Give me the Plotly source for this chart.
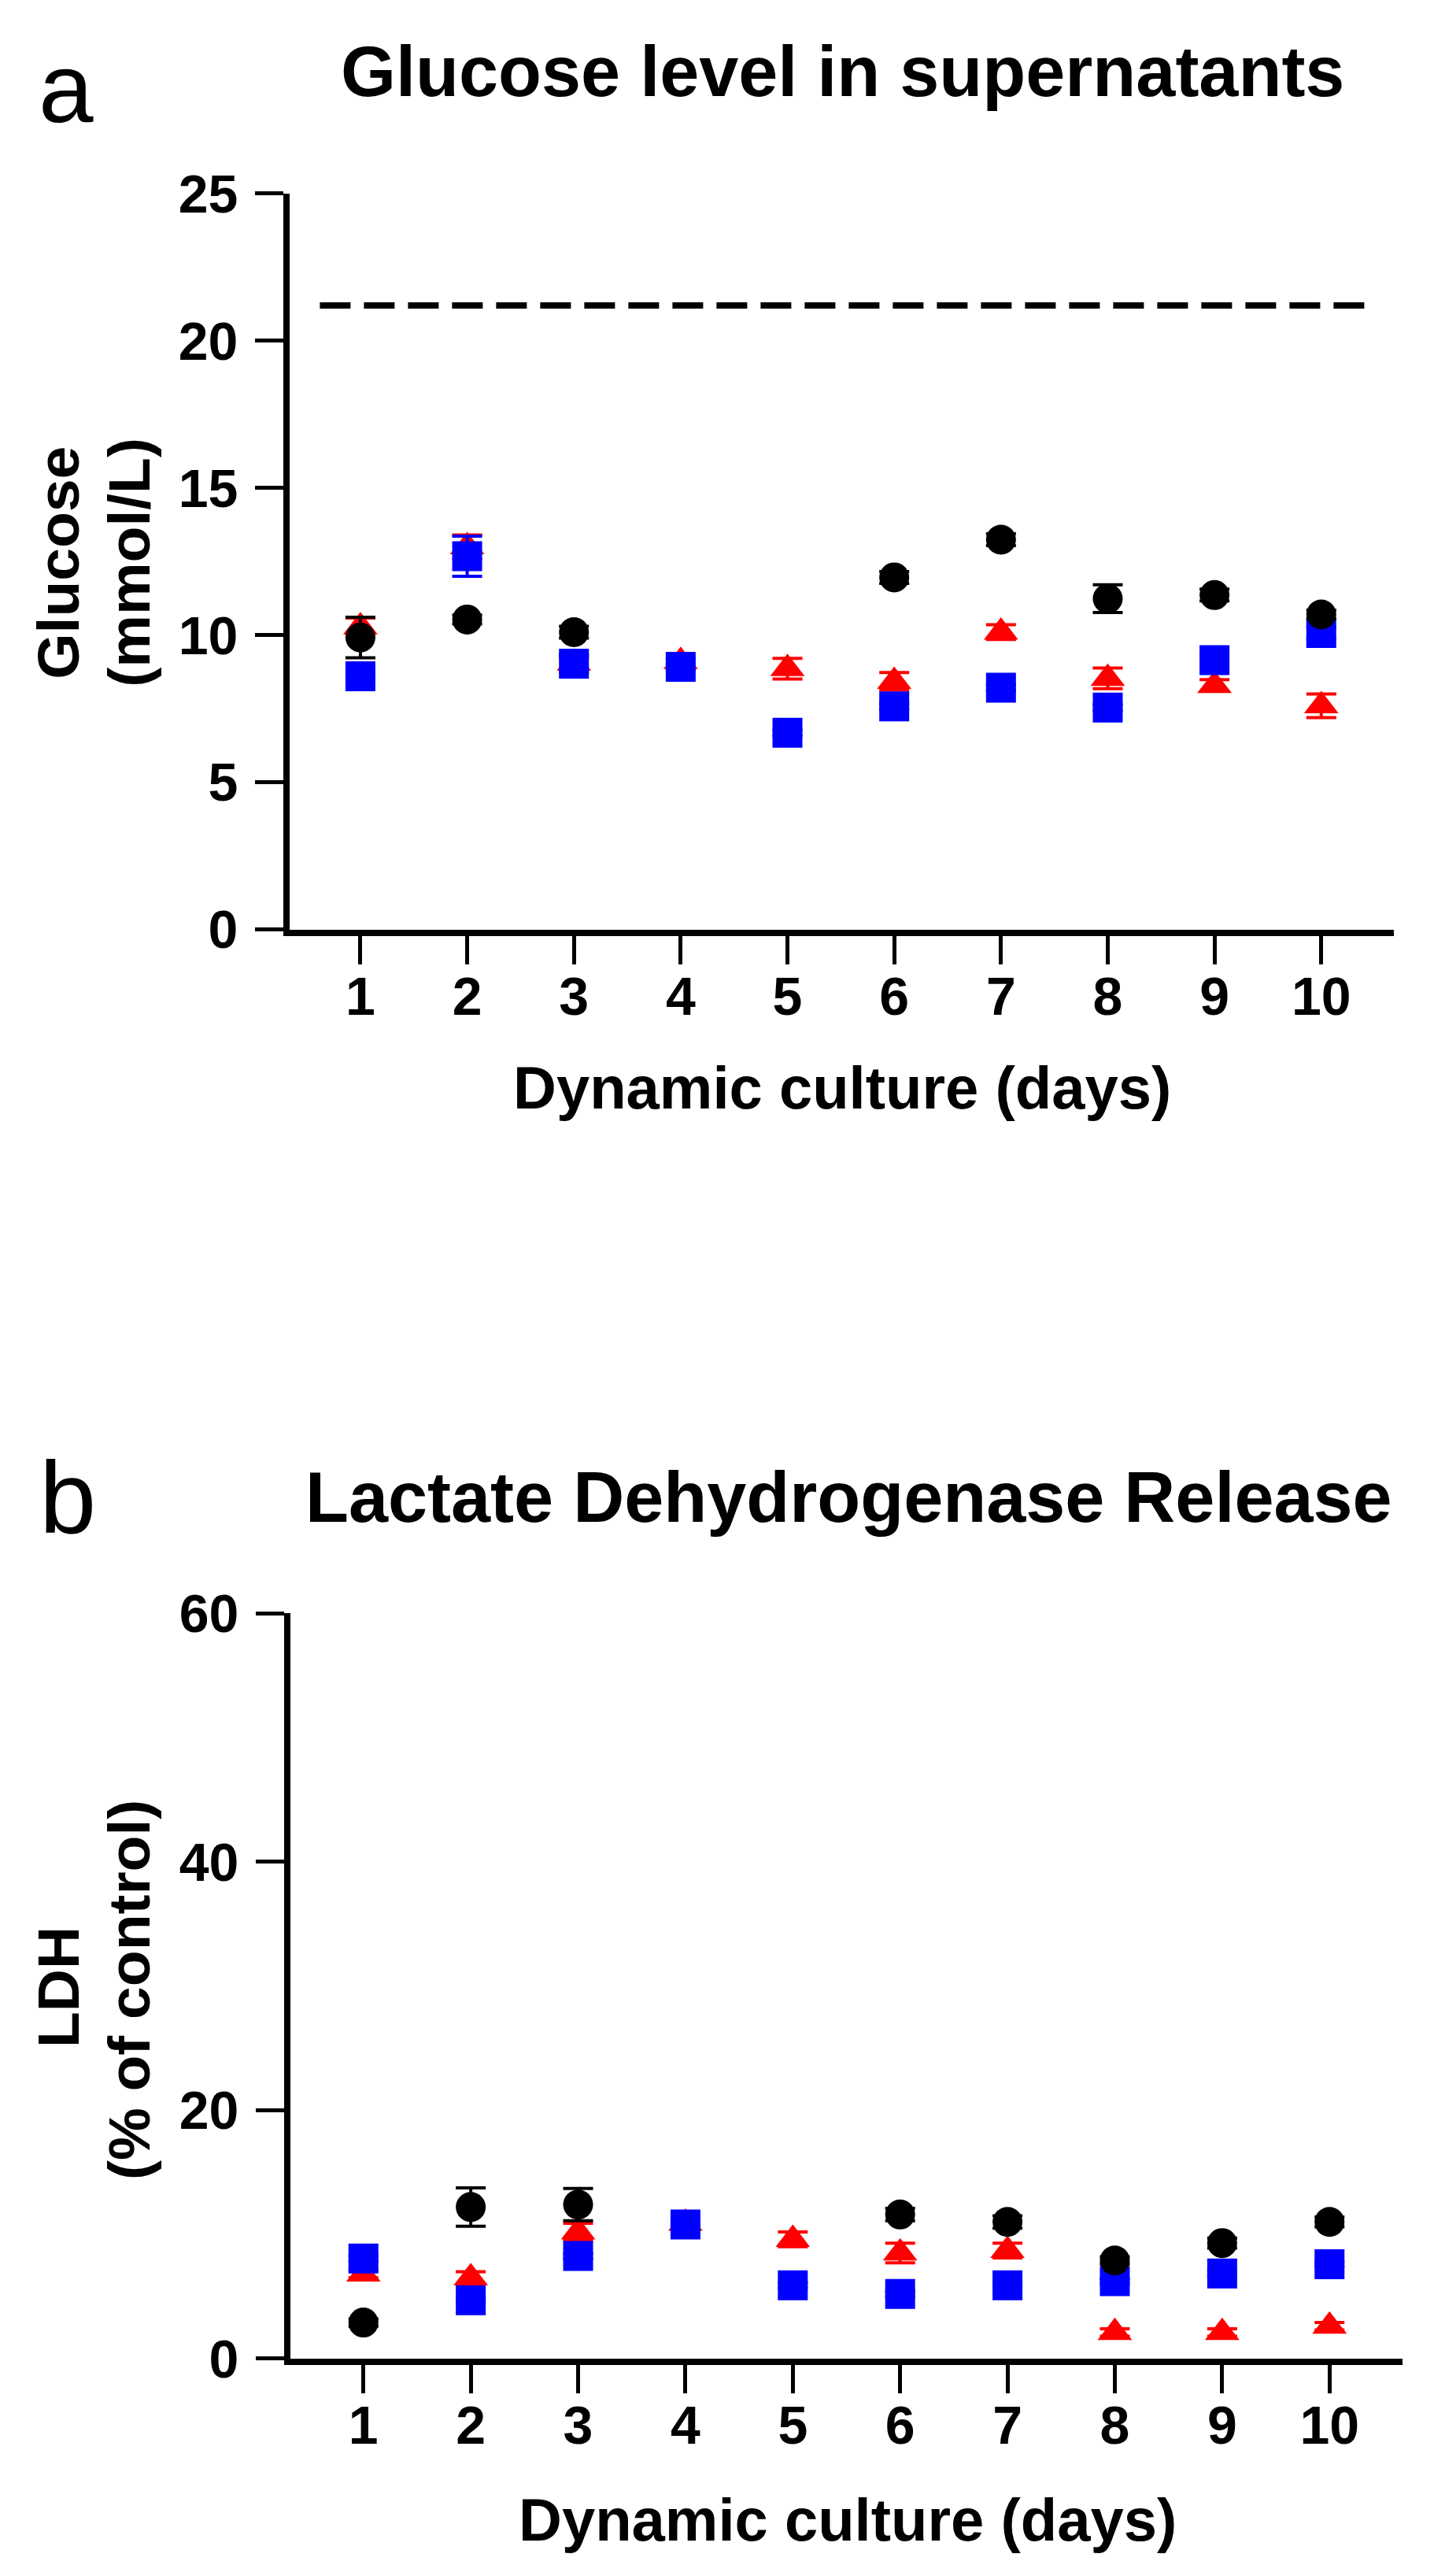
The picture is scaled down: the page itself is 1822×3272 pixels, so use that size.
import plotly.graph_objects as go

# ---------------- data ----------------
days = [1, 2, 3, 4, 5, 6, 7, 8, 9, 10]

# Panel a: glucose (mmol/L)
glu_black = [9.92, 10.53, 10.10, None, None, 11.96, 13.24, 11.24, 11.36, 10.70]
glu_black_err = [0.69, 0.15, 0.20, None, None, 0.20, 0.20, 0.47, 0.20, 0.15]
glu_red = [10.28, 13.00, 9.05, 9.10, 8.86, 8.43, 10.10, 8.53, 8.29, 7.60]
glu_red_err = [0.30, 0.40, 0.20, 0.10, 0.35, 0.30, 0.25, 0.35, 0.20, 0.40]
glu_blue = [8.60, 12.68, 9.03, 8.92, 6.68, 7.58, 8.21, 7.54, 9.15, 10.07]
glu_blue_err = [0.10, 0.68, 0.30, 0.10, 0.10, 0.10, 0.10, 0.10, 0.15, 0.20]
glu_reference = 21.2

# Panel b: LDH (% of control)
ldh_black = [2.9, 12.2, 12.4, None, None, 11.6, 11.0, 7.9, 9.3, 11.0]
ldh_black_err = [0.3, 1.55, 1.3, None, None, 0.5, 0.5, 0.3, 0.4, 0.4]
ldh_red = [6.8, 6.5, 10.2, 10.9, 9.6, 8.5, 8.7, 2.1, 2.1, 2.6]
ldh_red_err = [0.3, 0.5, 0.7, 0.3, 0.6, 0.8, 0.6, 0.3, 0.3, 0.3]
ldh_blue = [8.06, 4.7, 8.26, 10.8, 5.9, 5.2, 5.9, 6.24, 6.85, 7.6]
ldh_blue_err = [0.2, 0.2, 0.2, 0.2, 0.2, 0.2, 0.2, 0.2, 0.2, 0.2]

glu_yticks = [0, 5, 10, 15, 20, 25]
ldh_yticks = [0, 20, 40, 60]

# ---------------- styling ----------------
W, H = 1822, 3272
FONT = "Liberation Sans, Arial, Helvetica, sans-serif"
BLACK, RED, BLUE = "#000000", "#FF0000", "#0000FF"

# the photographed page maps layout y to about 40.5 + 0.975 * y
V_OFF, V_SC = 40.5, 0.975


def px_x(p):
    return p / W


def px_y(p):
    return 1 - ((p - V_OFF) / V_SC) / H


fig = go.Figure()


def add_series(y, err, color, symbol, size, xa, ya):
    fig.add_trace(go.Scatter(
        x=days, y=y, mode="markers", xaxis=xa, yaxis=ya,
        marker=dict(symbol=symbol, size=size, color=color, line=dict(width=0)),
        error_y=dict(type="data", array=err, visible=True, color=color,
                     thickness=4, width=19),
        showlegend=False, cliponaxis=False,
    ))


# draw order: red triangles, blue squares, black circles on top
add_series(glu_red, glu_red_err, RED, "triangle-up", 38, "x", "y")
add_series(glu_blue, glu_blue_err, BLUE, "square", 38, "x", "y")
add_series(glu_black, glu_black_err, BLACK, "circle", 38, "x", "y")

add_series(ldh_red, ldh_red_err, RED, "triangle-up", 38, "x2", "y2")
add_series(ldh_blue, ldh_blue_err, BLUE, "square", 38, "x2", "y2")
add_series(ldh_black, ldh_black_err, BLACK, "circle", 38, "x2", "y2")

axis_common = dict(
    showgrid=False, zeroline=False, showline=True, linecolor=BLACK, linewidth=8,
    ticks="outside", ticklen=36, tickwidth=5, tickcolor=BLACK,
    tickfont=dict(family=FONT, size=68, color=BLACK, weight="bold"),
)

fig.update_layout(
    width=W, height=H,
    margin=dict(l=0, r=0, t=0, b=0),
    paper_bgcolor="white", plot_bgcolor="white",
    xaxis=dict(domain=[px_x(368), px_x(1771)], range=[0.337, 10.68], anchor="y",
               tickvals=days, ticklabelstandoff=-17, **axis_common),
    yaxis=dict(domain=[px_y(1181), px_y(248)], range=[0, 25], anchor="x",
               tickvals=glu_yticks, ticklabelstandoff=8, **axis_common),
    xaxis2=dict(domain=[px_x(369), px_x(1782)], range=[0.32, 10.68], anchor="y2",
                tickvals=days, ticklabelstandoff=-17, **axis_common),
    yaxis2=dict(domain=[px_y(2993), px_y(2048)], range=[0, 60], anchor="x2",
                tickvals=ldh_yticks, ticklabelstandoff=8, **axis_common),
)

# dashed reference line (panel a)
fig.add_shape(type="line", xref="x", yref="y", x0=0.62, x1=10.5,
              y0=glu_reference, y1=glu_reference,
              line=dict(color=BLACK, width=8, dash="39px,17px"))


def ann(text, x, y, size, bold=True, angle=0, xanchor="center", yanchor="middle",
        ypaper=None):
    fig.add_annotation(
        text=text, x=px_x(x), y=ypaper if ypaper is not None else px_y(y),
        xref="paper", yref="paper",
        xanchor=xanchor, yanchor=yanchor, showarrow=False, textangle=angle,
        font=dict(family=FONT, size=size, color=BLACK,
                  weight="bold" if bold else "normal"),
    )


# panel letters ("a" kept fully inside the page top)
ann("a", 47, 0, 125, bold=False, xanchor="left", yanchor="top",
    ypaper=1 - 2 / H)
ann("b", 48, 1901, 130, bold=False, xanchor="left")

# titles
ann("Glucose level in supernatants", 1070, 93, 90)
ann("Lactate Dehydrogenase Release", 1078, 1901, 90)

# x-axis titles
ann("Dynamic culture (days)", 1070, 1382, 76)
ann("Dynamic culture (days)", 1077, 3197, 76)

# y-axis titles (two lines each)
ann("Glucose", 74, 716, 75, angle=-90)
ann("(mmol/L)", 164, 716, 75, angle=-90)
ann("LDH", 74, 2522, 75, angle=-90)
ann("(% of control)", 164, 2526, 75, angle=-90)

fig.write_html("out.html")
